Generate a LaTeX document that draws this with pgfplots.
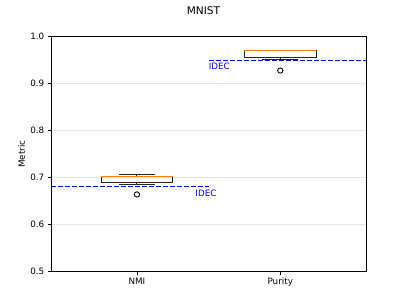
\documentclass[border=0pt]{standalone}
\usepackage{pgfplots}
\pgfplotsset{compat=1.18}
\usepgfplotslibrary{statistics}
\usepackage{fontspec}
\setmainfont{DejaVu Sans}
\definecolor{mplorange}{HTML}{FF7F0E}
\begin{document}
\begin{tikzpicture}
\useasboundingbox (0,0) rectangle (407bp,305bp);
\node[anchor=north, inner sep=0pt, font=\fontsize{10.6}{12}\selectfont] at (203.5bp,298.9bp) {MNIST};
\begin{axis}[
  at={(50.9bp,33.5bp)}, anchor=south west,
  width=315.4bp, height=234.9bp, scale only axis,
  xmin=0.4, xmax=2.6, ymin=0.5, ymax=1.0,
  xtick={1,2}, xticklabels={NMI,Purity},
  ytick={0.5,0.6,0.7,0.8,0.9,1.0},
  yticklabel style={/pgf/number format/fixed, /pgf/number format/fixed zerofill, /pgf/number format/precision=1},
  /pgf/number format/assume math mode=true,
  ymajorgrids, major grid style={black!10, line width=0.71bp},
  tick align=outside, major tick length=3.1bp,
  tick style={black, line width=0.71bp},
  xtick pos=bottom, ytick pos=left,
  axis line style={line width=0.71bp},
  ticklabel style={font=\fontsize{8.8}{10}\selectfont},
  ylabel={Metric},
  ylabel style={xshift=0pt, yshift=-1.5bp},
  label style={font=\fontsize{8.8}{10}\selectfont},
  boxplot/draw direction=y,
  boxplot/every median/.style={draw=mplorange, line width=0.88bp},
]
\addplot[black!85, line width=0.88bp, boxplot prepared={draw position=1,
  lower whisker=0.6845, lower quartile=0.689, median=0.7015,
  upper quartile=0.7015, upper whisker=0.707,
  box extend=0.5, whisker extend=0.25}] coordinates {};
\addplot[black!85, line width=0.88bp, boxplot prepared={draw position=2,
  lower whisker=0.951, lower quartile=0.9547, median=0.9697,
  upper quartile=0.9697, upper whisker=0.9705,
  box extend=0.5, whisker extend=0.25}] coordinates {};
\addplot[only marks, mark=o, mark size=2.65bp, black, line width=0.88bp] coordinates {(1,0.664) (2,0.9277)};
\addplot[blue, line width=1.32bp, dash pattern=on 4.9bp off 2.1bp] coordinates {(0.4,0.681) (1.5,0.681)};
\addplot[blue, line width=1.32bp, dash pattern=on 4.9bp off 2.1bp] coordinates {(1.5,0.949) (2.6,0.949)};
\node[anchor=west, inner sep=0pt, text=blue, font=\fontsize{8.8}{10}\selectfont] at (axis cs:1.407,0.666) {IDEC};
\node[anchor=west, inner sep=0pt, text=blue, font=\fontsize{8.8}{10}\selectfont] at (axis cs:1.5,0.936) {IDEC};
\end{axis}
\end{tikzpicture}
\end{document}
